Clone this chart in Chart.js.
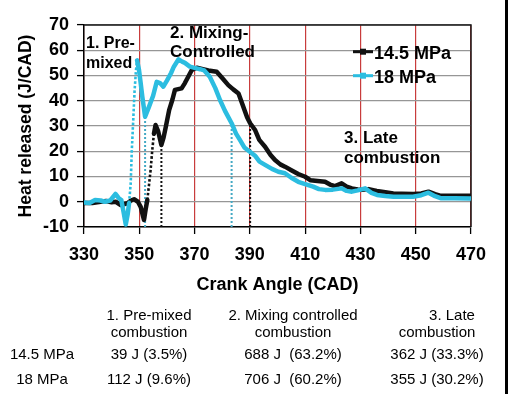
<!DOCTYPE html>
<html><head><meta charset="utf-8">
<script src="https://cdn.jsdelivr.net/npm/chart.js@4.4.1/dist/chart.umd.min.js"></script>
<style>html,body{margin:0;padding:0;background:#fff;}</style></head>
<body><canvas id="c" width="508" height="394"></canvas>
<script>
// ---- data ----
const seriesNames = ['14.5 MPa', '18 MPa'];
const cad145 = [330,333,336,338,340,341.5,343.3,345.7,347,348.1,
  349.5,350.5,351.1,351.7,352.3,352.9,353.5,354.1,354.7,355.3,
  355.9,356.8,358,358.8,359.6,360.8,362,362.9,365.3,366.5,
  367.7,369,370.8,373,375,378,380,382.2,384,385.9,
  387.5,389,390.1,391.9,393.4,395.5,397.5,399.1,401,402.7,
  405,407.5,410,412,413.6,417.2,419,420.8,423.2,425,
  426.9,429,430.5,433,435.9,439,441.9,445,449.1,452,
  454.6,457,458.8,464,470];
const heat145 = [-0.5,-0.5,0,0.3,-0.2,0,-1.3,-0.6,0.5,1,
  0,-2,-4.6,-7.2,-3,0.7,6.5,12.6,20.5,27,
  30.4,28,22.5,25.5,29.7,36.3,40.5,44.3,44.9,47,
  49.5,52.2,53.1,52.5,52,51.5,49,46.2,44.5,42.9,
  38,33.5,31.1,28.4,24.5,21.8,18.5,16.5,14.8,13.9,
  12.5,11,9.9,8.5,8.3,7.9,6.8,6.2,7.3,6,
  5.3,4.9,4.7,5,4.3,3.8,3.3,3.2,3.1,3.3,
  4,3,2.4,2.4,2.4];
const cad18 = [330,332,334,336,337.5,339.5,341.4,342.5,343.5,344.3,
  345.1,345.8,346.3,346.9,347.3,347.8,348.3,348.8,349.2,349.9,
  350.5,351.1,352.1,353.5,355,356.3,357.5,358.7,360,361.5,
  362.5,364.2,365.5,366.5,368.3,370,372,373.5,375.5,377.5,
  379.2,381,383.4,385,386.4,388,390,392,393.5,395.5,
  398,400.3,402.7,405,407.5,410,412.9,415,417.2,420,
  423.2,425,426.9,429,431.7,434,436,439,442,446,
  449,452,454.6,457,459,464,470];
const heat18 = [-0.3,-0.5,0.7,0.5,0,0.5,3.1,1.5,0.7,-4,
  -9,-5,-0.6,7.3,20.5,32,44,52,56,52.2,
  47,41.6,33.7,37.6,42,47.5,47,45.6,48,51,
  53.5,56.4,55.5,55,53.5,53,52.5,52,49.5,45,
  40.3,36,31.1,27,24.5,21.5,19.8,18.1,15.9,14.6,
  13,11.9,11.3,9.5,7.9,7,6,5,4.7,4.8,
  5.3,4.3,4,4.5,5.3,3.5,2.7,2.3,2,2,
  2,2.6,3.6,2.2,1.4,1.4,1.3];
const phaseEndCad145 = [358, 390.1];
const phaseEndHeat145 = [22.5, 31.1];
const phaseEndCad18 = [352.1, 383.4];
const phaseEndHeat18 = [33.7, 31.1];
const xMin = 330, xMax = 470, xStep = 20;
const yMin = -10, yMax = 70, yStep = 10;
const phaseNotes = [['1. Pre-', 'mixed'], ['2. Mixing-', 'Controlled'], ['3. Late', 'combustion']];
const phaseHeader1 = ['1. Pre-mixed', '2. Mixing controlled', '3. Late'];
const phaseHeader2 = ['combustion', 'combustion', 'combustion'];
const energyJ145 = [39, 688, 362];
const share145 = [3.5, 63.2, 33.3];
const energyJ18 = [112, 706, 355];
const share18 = [9.6, 60.2, 30.2];

// ---- styles ----
const BLACK = 'rgb(17,17,17)', CYAN = 'rgb(44,189,224)', CYAN_DOT = 'rgb(69,169,196)';
const GRID_X = 'rgb(200,60,60)';
const GRID_Y = 'rgb(150,150,150)';
const FONT = '"Liberation Sans", Arial, sans-serif';

const pts = (xs, ys) => xs.map((x, i) => ({x, y: ys[i]}));
const steep = ctx => Math.abs(ctx.p1.y - ctx.p0.y) / Math.max(0.1, Math.abs(ctx.p1.x - ctx.p0.x)) > 8.3;
const seg = {
  borderWidth: ctx => steep(ctx) ? 2.6 : undefined,
  borderDash: ctx => steep(ctx) ? [2.6, 2] : undefined,
  borderCapStyle: ctx => steep(ctx) ? 'butt' : undefined
};
const lineDs = (label, xs, ys, color, order) => ({
  label, data: pts(xs, ys), borderColor: color, backgroundColor: color,
  borderWidth: 4.5, pointRadius: 0, tension: 0, order,
  borderJoinStyle: 'round', borderCapStyle: 'round', segment: seg
});
const phaseDs = (c, h, color) => ({
  data: [{x: c, y: yMin}, {x: c, y: h}], borderColor: color, borderWidth: 2,
  borderDash: [2, 2], pointRadius: 0, order: 3
});

const datasets = [
  lineDs(seriesNames[1], cad18, heat18, CYAN, 0),
  lineDs(seriesNames[0], cad145, heat145, BLACK, 1),
  ...phaseEndCad18.map((c, i) => phaseDs(c, phaseEndHeat18[i], CYAN_DOT)),
  ...phaseEndCad145.map((c, i) => phaseDs(c, phaseEndHeat145[i], BLACK))
];

const frame = {
  id: 'frame',
  beforeDatasetsDraw(chart) {
    const {ctx, chartArea: a} = chart;
    ctx.save(); ctx.strokeStyle = 'rgb(26,26,26)'; ctx.lineWidth = 1.5;
    ctx.beginPath(); ctx.moveTo(a.left, a.top); ctx.lineTo(a.right, a.top); ctx.lineTo(a.right, a.bottom);
    ctx.stroke(); ctx.restore();
  }
};

const noteX = [86, 170, 344];
const noteBase = [[48, 68], [38, 57], [143, 163]];
const noteSize = [16, 17, 17];
const legendColors = [BLACK, CYAN];
const legendBase = [59.3, 82.7];
const legendLineY = [51.7, 75.7];
const colCenters = [42, 149, 293, 437];
const rowBase = [320, 336.5, 359.3, 384];

const texts = {
  id: 'texts',
  afterDraw(chart) {
    const ctx = chart.ctx;
    ctx.save();
    ctx.fillStyle = '#000'; ctx.textBaseline = 'alphabetic'; ctx.textAlign = 'left';
    phaseNotes.forEach((lines, i) => {
      ctx.font = `bold ${noteSize[i]}px ${FONT}`;
      lines.forEach((t, j) => ctx.fillText(t, noteX[i], noteBase[i][j]));
    });
    seriesNames.forEach((n, i) => {
      ctx.fillStyle = legendColors[i];
      ctx.fillRect(353, legendLineY[i] - 1.5, 20, 3);
      ctx.fillRect(360, legendLineY[i] - 3, 6, 6);
      ctx.fillStyle = '#000';
      ctx.font = `bold 18px ${FONT}`;
      ctx.fillText(n, 374, legendBase[i]);
    });
    ctx.font = `15px ${FONT}`; ctx.textAlign = 'center';
    phaseHeader1.forEach((t, i) => ctx.fillText(t, colCenters[i + 1] + (i === 2 ? 15 : 0), rowBase[0]));
    phaseHeader2.forEach((t, i) => ctx.fillText(t, colCenters[i + 1], rowBase[1]));
    ctx.fillText(seriesNames[0], colCenters[0], rowBase[2]);
    ctx.fillText(seriesNames[1], colCenters[0], rowBase[3]);
    energyJ145.forEach((e, i) => ctx.fillText(`${e} J${i === 1 ? '  ' : ' '}(${share145[i]}%)`, colCenters[i + 1], rowBase[2]));
    energyJ18.forEach((e, i) => ctx.fillText(`${e} J${i === 1 ? '  ' : ' '}(${share18[i]}%)`, colCenters[i + 1], rowBase[3]));
    ctx.fillStyle = '#000'; ctx.fillRect(505, 0, 3, 394);
    ctx.restore();
  }
};

const tickFont = {size: 18, weight: 'bold', family: FONT};
new Chart(document.getElementById('c'), {
  type: 'line',
  data: {datasets},
  plugins: [frame, texts],
  options: {
    responsive: false, animation: false, devicePixelRatio: 1,
    layout: {padding: {left: 0, top: 25, right: 37, bottom: 94}},
    plugins: {legend: {display: false}, tooltip: {enabled: false}},
    scales: {
      x: {
        type: 'linear', min: xMin, max: xMax,
        ticks: {stepSize: xStep, font: tickFont, color: '#000', padding: 10, maxRotation: 0, autoSkip: false},
        grid: {color: GRID_X, lineWidth: 1.2, tickLength: 7, tickColor: 'rgb(0,0,0)', tickWidth: 1.3},
        border: {color: '#000', width: 1.5},
        title: {display: true, text: 'Crank Angle (CAD)', font: tickFont, color: '#000', padding: {top: 4, bottom: 4}},
        afterFit(s) { s.height = 73; }
      },
      y: {
        type: 'linear', min: yMin, max: yMax,
        ticks: {stepSize: yStep, font: tickFont, color: '#000', padding: 8},
        grid: {color: GRID_Y, lineWidth: 1.2, tickLength: 7, tickColor: 'rgb(0,0,0)', tickWidth: 1.3},
        border: {color: '#000', width: 1.5},
        title: {display: true, text: 'Heat released (J/CAD)', font: {size: 17.5, weight: 'bold', family: FONT}, color: '#000', padding: {top: 16, bottom: 0}},
        afterFit(s) { s.width = 84; }
      }
    }
  }
});
</script>
</body></html>
